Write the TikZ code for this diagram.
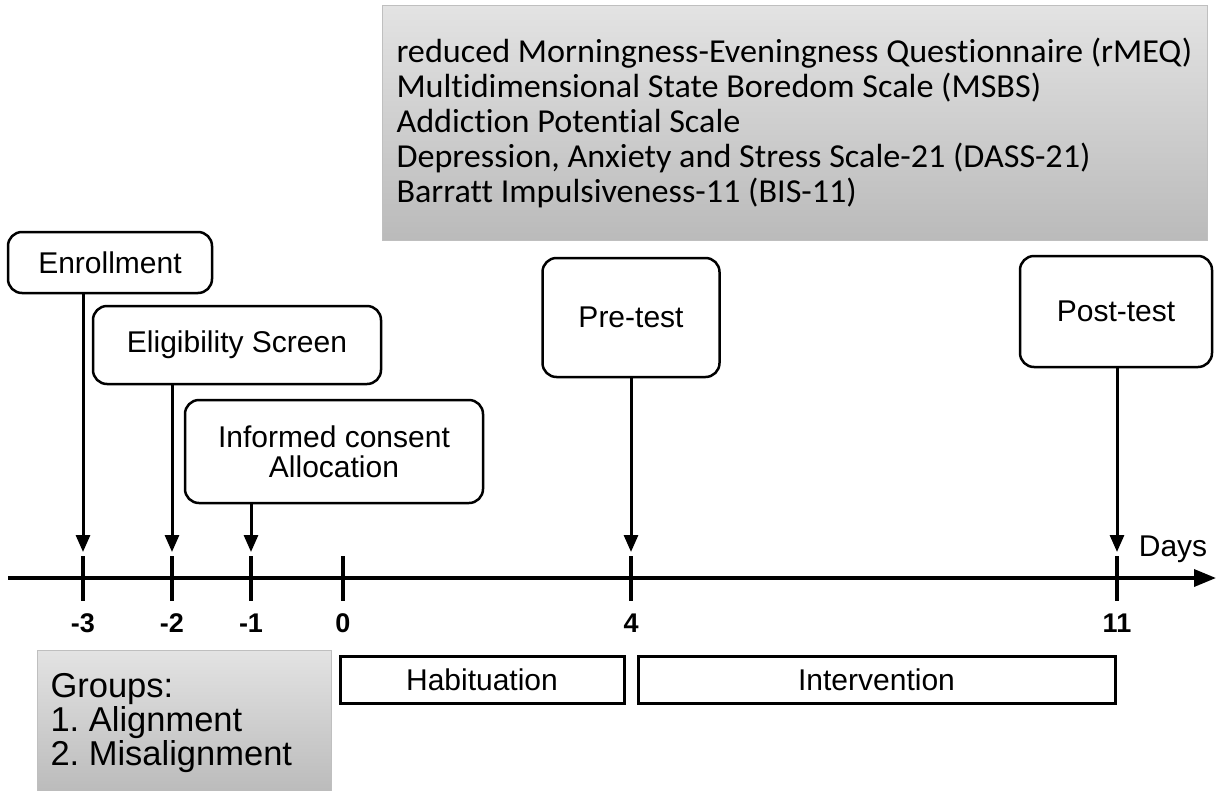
\documentclass[tikz,border=0pt]{standalone}
\usepackage{fontspec}
\setmainfont{Liberation Sans}
\newfontfamily\calibrifont[Ligatures=NoCommon,FakeStretch=1.02]{Carlito}
\usetikzlibrary{arrows.meta,positioning,calc}
\frenchspacing

\begin{document}
\begin{tikzpicture}[x=1pt, y=-1pt,
  evbox/.style={rectangle, rounded corners=14pt, draw=black, line width=2.5pt,
               fill=white, inner sep=0pt, align=center,
               font=\fontsize{30}{30}\selectfont},
  phbox/.style={rectangle, draw=black, line width=3pt, minimum height=47pt,
               inner sep=0pt, font=\fontsize{30}{33}\selectfont},
  gbox/.style={rectangle, draw=black!25, line width=1pt,
               top color=black!11, bottom color=black!27,
               align=flush left, inner ysep=0pt},
  arr/.style={-{Triangle[length=17pt,width=14pt]}, line width=3pt},
  axisarr/.style={-{Triangle[length=22pt,width=17pt]}, line width=3.5pt},
  tickmark/.style={line width=4.5pt},
  daylbl/.style={font=\fontsize{27}{30}\selectfont\bfseries}
]
\useasboundingbox (0,0) rectangle (1223,790);

% Questionnaires
\node[gbox, anchor=north west, text width=797pt, inner xsep=14pt,
      minimum height=235pt, font=\calibrifont\fontsize{33.5}{35}\selectfont]
  (quest) at (382,5)
  {reduced Morningness-Eveningness Questionnaire (rMEQ)\\
   Multidimensional State Boredom Scale (MSBS)\\
   Addiction Potential Scale\\
   Depression, Anxiety and Stress Scale-21 (DASS-21)\\
   Barratt Impulsiveness-11 (BIS-11)};

% Time axis
\coordinate (ax0) at (8,578);
\coordinate (ax1) at (1216,578);
\draw[axisarr] (ax0) -- (ax1);
\node[font=\fontsize{30}{33}\selectfont] (days) at (1173,549) {Days};

\foreach \d/\x/\n in {-3/83/m3, -2/172/m2, -1/251/m1, 0/343/z0, 4/631/p4, 11/1117/p11}{
  \coordinate (\n) at (\x,552);
  \draw[tickmark] (\x,556) -- (\x,601);
  \node[daylbl] (lbl\n) at (\x,623) {\d};
}

% Events
\node[evbox, minimum width=204pt, minimum height=61pt]  (enroll) at (110,262.5) {Enrollment};
\node[evbox, minimum width=288pt, minimum height=78pt]  (elig)   at (237,345) {Eligibility Screen};
\node[evbox, minimum width=298pt, minimum height=103pt] (inform) at (334,451.5)
  {Informed consent\\Allocation};
\node[evbox, minimum width=177pt, minimum height=119pt] (pre)    at (631,317.5) {Pre-test};
\node[evbox, minimum width=192pt, minimum height=111pt] (post)   at (1116,311.5) {Post-test};

\draw[arr] (enroll.south -| m3)  -- (m3);
\draw[arr] (elig.south -| m2)    -- (m2);
\draw[arr] (inform.south -| m1)  -- (m1);
\draw[arr] (pre.south -| p4)     -- (p4);
\draw[arr] (post.south -| p11)   -- (p11);

% Groups and phases
\node[gbox, anchor=north west, text width=268pt, inner xsep=13pt,
      minimum height=145pt, font=\fontsize{34.5}{34}\selectfont]
  (groups) at (37,650) {Groups:\\1. Alignment\\2. Misalignment};

\node[phbox, minimum width=284pt] (habit)  at (482,679.5) {Habituation};
\node[phbox, minimum width=477pt] (interv) at (876.5,679.5) {Intervention};
\end{tikzpicture}
\end{document}
